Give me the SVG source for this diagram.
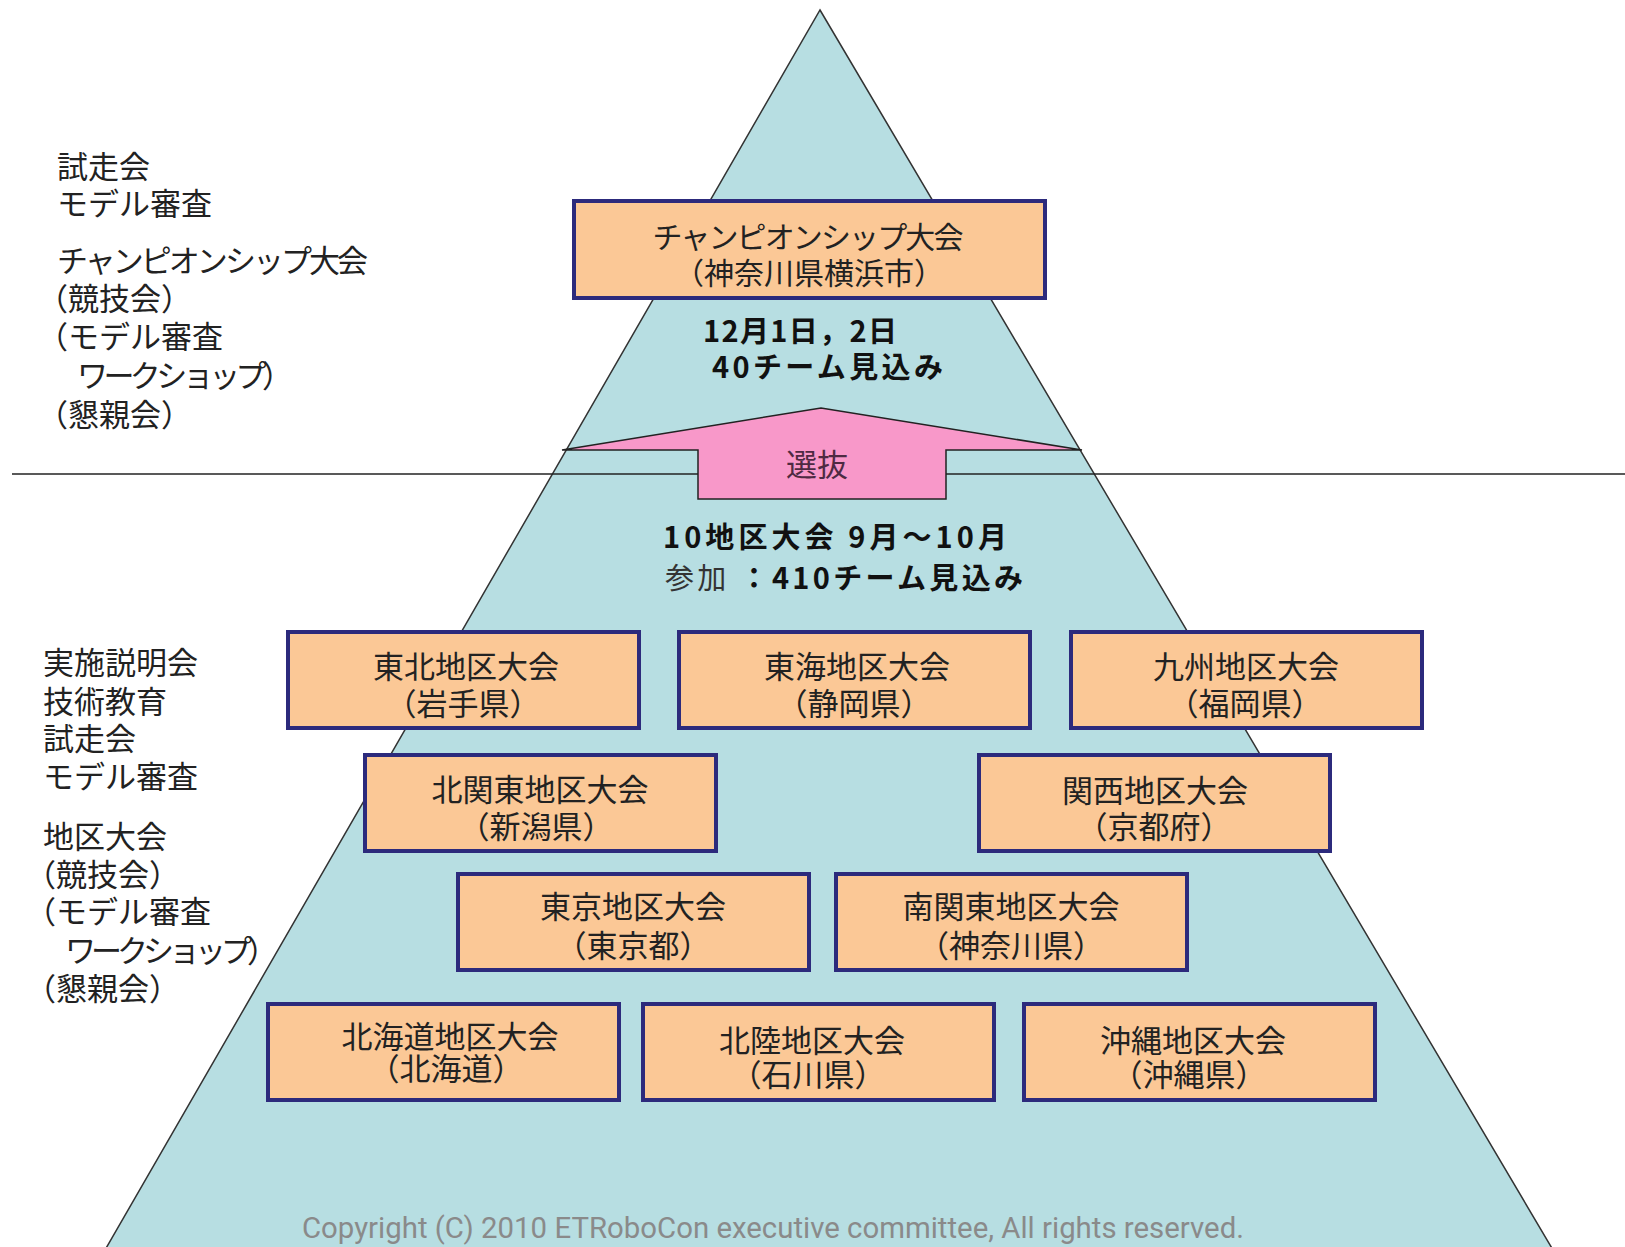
<svg xmlns="http://www.w3.org/2000/svg" width="1625" height="1247" viewBox="0 0 1625 1247">
<style>
.jp{font-family:"Noto Sans CJK JP","Noto Sans CJK SC",sans-serif;fill:#222;}
.lbl{font-size:31px;}
.bx{font-size:31px;text-anchor:middle;}
.bold{font-weight:700;font-size:29px;fill:#111;}
.box{fill:#FBC896;stroke:#2C2A7C;stroke-width:4;}
</style>
<rect width="1625" height="1247" fill="#ffffff"/>

<g id="pyramid">
<polygon points="820,10 1553,1250 105,1250" fill="#B7DEE2" stroke="#333" stroke-width="1.5"/>
</g>

<g id="divider">
<line x1="12" y1="474" x2="1625" y2="474" stroke="#222" stroke-width="1.6"/>
</g>

<g id="selection">
<polygon points="562,450 821,408 1082,450 946,450 946,499 698,499 698,450" fill="#F898C9" stroke="#222" stroke-width="1.5"/>
<text class="jp" x="817" y="476" font-size="31" text-anchor="middle" style="fill:#4E2A42">選抜</text>
</g>

<g id="labels-top">
<text class="jp lbl"><tspan x="57" y="178">試走会</tspan><tspan x="57" y="215">モデル審査</tspan><tspan x="57" y="272" textLength="311">チャンピオンシップ大会</tspan><tspan x="37" y="310">（競技会）</tspan><tspan x="37" y="348">（モデル審査</tspan><tspan x="77" y="387" textLength="216">ワークショップ）</tspan><tspan x="37" y="426">（懇親会）</tspan></text>
</g>

<g id="labels-bottom">
<text class="jp lbl"><tspan x="43" y="674">実施説明会</tspan><tspan x="43" y="713">技術教育</tspan><tspan x="43" y="750">試走会</tspan><tspan x="43" y="788">モデル審査</tspan><tspan x="43" y="848">地区大会</tspan><tspan x="25" y="886">（競技会）</tspan><tspan x="25" y="923">（モデル審査</tspan><tspan x="65" y="962" textLength="213">ワークショップ）</tspan><tspan x="25" y="1000">（懇親会）</tspan></text>
</g>

<g id="championship">
<rect class="box" x="574" y="201" width="471" height="97"/>
<text class="jp" font-size="30" text-anchor="middle"><tspan x="808" y="248" textLength="311">チャンピオンシップ大会</tspan><tspan x="809" y="284">（神奈川県横浜市）</tspan></text>
</g>

<g id="championship-info">
<text class="jp bold"><tspan x="703" y="342" textLength="194">12月1日，2日</tspan><tspan x="712" y="378" textLength="231">40チーム見込み</tspan></text>
</g>

<g id="regional-info">
<text class="jp bold"><tspan x="663" y="548" textLength="344">10地区大会 9月～10月</tspan><tspan x="665" y="589" textLength="358"><tspan font-weight="400" style="fill:#333">参加</tspan> ：410チーム見込み</tspan></text>
</g>

<g id="tohoku">
<rect class="box" x="288" y="632" width="351" height="96"/>
<text class="jp bx"><tspan x="466" y="678">東北地区大会</tspan><tspan x="463" y="715">（岩手県）</tspan></text>
</g>
<g id="tokai">
<rect class="box" x="679" y="632" width="351" height="96"/>
<text class="jp bx"><tspan x="857" y="678">東海地区大会</tspan><tspan x="854" y="715">（静岡県）</tspan></text>
</g>
<g id="kyushu">
<rect class="box" x="1071" y="632" width="351" height="96"/>
<text class="jp bx"><tspan x="1246" y="678">九州地区大会</tspan><tspan x="1245" y="715">（福岡県）</tspan></text>
</g>
<g id="kitakanto">
<rect class="box" x="365" y="755" width="351" height="96"/>
<text class="jp bx"><tspan x="540" y="801">北関東地区大会</tspan><tspan x="536" y="838">（新潟県）</tspan></text>
</g>
<g id="kansai">
<rect class="box" x="979" y="755" width="351" height="96"/>
<text class="jp bx"><tspan x="1155" y="802">関西地区大会</tspan><tspan x="1154" y="838">（京都府）</tspan></text>
</g>
<g id="tokyo">
<rect class="box" x="458" y="874" width="351" height="96"/>
<text class="jp bx"><tspan x="633" y="918">東京地区大会</tspan><tspan x="633" y="957">（東京都）</tspan></text>
</g>
<g id="minamikanto">
<rect class="box" x="836" y="874" width="351" height="96"/>
<text class="jp bx"><tspan x="1011" y="918">南関東地区大会</tspan><tspan x="1011" y="957">（神奈川県）</tspan></text>
</g>
<g id="hokkaido">
<rect class="box" x="268" y="1004" width="351" height="96"/>
<text class="jp bx"><tspan x="450" y="1048">北海道地区大会</tspan><tspan x="446" y="1080">（北海道）</tspan></text>
</g>
<g id="hokuriku">
<rect class="box" x="643" y="1004" width="351" height="96"/>
<text class="jp bx"><tspan x="812" y="1052">北陸地区大会</tspan><tspan x="808" y="1086">（石川県）</tspan></text>
</g>
<g id="okinawa">
<rect class="box" x="1024" y="1004" width="351" height="96"/>
<text class="jp bx"><tspan x="1193" y="1052">沖縄地区大会</tspan><tspan x="1189" y="1086">（沖縄県）</tspan></text>
</g>

<g id="copyright">
<text x="302" y="1238" font-family="Roboto,'Liberation Sans',sans-serif" font-size="29" fill="#8A8A8A" textLength="942" lengthAdjust="spacingAndGlyphs">Copyright (C) 2010 ETRoboCon executive committee,  All rights reserved.</text>
</g>
</svg>
